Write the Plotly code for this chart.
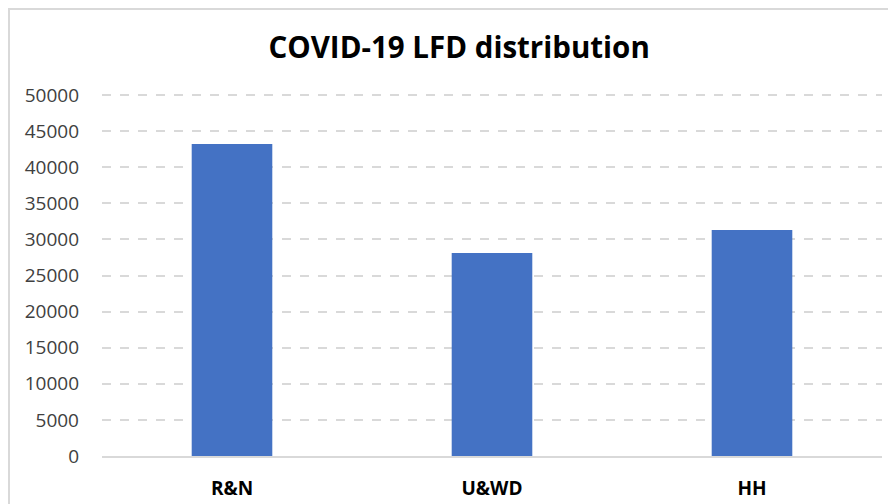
import plotly.graph_objects as go

categories = ["R&N", "U&WD", "HH"]
values = [43200, 28100, 31300]
tick_values = [0, 5000, 10000, 15000, 20000, 25000, 30000, 35000, 40000, 45000, 50000]
tick_labels = [str(v) for v in tick_values]

FONT = "Open Sans, Lato, sans-serif"

# The page body has an 8px default margin, so the figure is 8px smaller
W, H = 888, 496
T, B = 84, 48
plot_h = H - T - B  # 364 px; 50000 spans 361 px
y_top = 50000 * plot_h / 361

fig = go.Figure(go.Bar(
    x=categories,
    y=values,
    marker=dict(color="#4472C4", line=dict(width=0)),
    width=0.31,
    hoverinfo="x+y",
))

fig.update_layout(
    width=W, height=H,
    margin=dict(l=94, r=14, t=T, b=B),
    paper_bgcolor="white", plot_bgcolor="white",
    showlegend=False,
    title=dict(text="<b>COVID-19 LFD distribution</b>", x=0.508, xanchor="center",
               y=1 - 40 / H, yanchor="middle",
               font=dict(family=FONT, size=29.5, color="#000000")),
    xaxis=dict(showgrid=False, showline=True, linecolor="#D9D9D9", linewidth=1.5,
               tickfont=dict(family=FONT, size=19, color="#000000", weight="bold"),
               ticks="", ticklabelstandoff=14, fixedrange=True, automargin=False),
    yaxis=dict(range=[0, y_top], tickvals=tick_values, ticktext=tick_labels,
               showgrid=True, gridcolor="#D9D9D9", gridwidth=1.5, griddash="dash",
               zeroline=False, showline=False, ticks="", ticklabelstandoff=22,
               tickfont=dict(family=FONT, size=19, color="#404040"), fixedrange=True,
               automargin=False),
    shapes=[dict(type="rect", xref="paper", yref="paper",
                 x0=-93 / 780, x1=820 / 780,
                 y0=-60 / plot_h, y1=(448 - 1) / plot_h,
                 line=dict(color="#D9D9D9", width=2), fillcolor="rgba(0,0,0,0)", layer="below")],
)

fig.write_html("out.html")
